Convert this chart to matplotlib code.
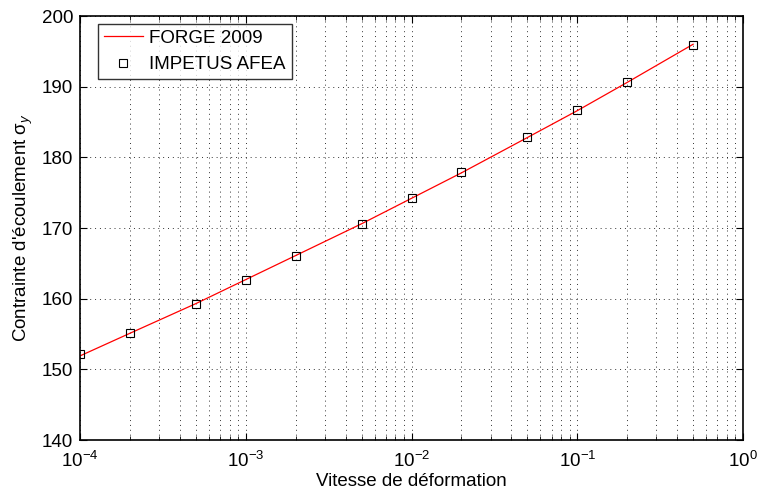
import matplotlib
matplotlib.use("Agg")
import matplotlib.pyplot as plt

# strain rate (1/s) and flow stress
rate = [1e-4, 2e-4, 5e-4, 1e-3, 2e-3, 5e-3, 1e-2, 2e-2, 5e-2, 1e-1, 2e-1, 5e-1]
forge = [151.9, 155.1, 159.3, 162.7, 166.1, 170.6, 174.2, 177.8, 182.8, 186.6, 190.6, 196.0]
impetus = [152.1, 155.1, 159.3, 162.7, 166.0, 170.6, 174.2, 177.9, 182.9, 186.7, 190.6, 195.9]

plt.rcParams["font.family"] = ["Liberation Sans", "DejaVu Sans"]
plt.rcParams["mathtext.fontset"] = "custom"
plt.rcParams["mathtext.rm"] = "Liberation Sans"
plt.rcParams["mathtext.it"] = "Liberation Sans:italic"

fs = 13.5
fig = plt.figure(figsize=(7.57, 4.94), dpi=100)
ax = fig.add_axes([80 / 757, 1 - 440 / 494, 663 / 757, 424 / 494])

ax.plot(rate, forge, color="red", linewidth=0.9, label="FORGE 2009")
ax.plot(rate, impetus, linestyle="none", marker="s", markersize=5.5,
        markerfacecolor="none", markeredgecolor="black", markeredgewidth=0.8,
        label="IMPETUS AFEA")

ax.set_xscale("log")
ax.set_xlim(1e-4, 1)
ax.set_ylim(140, 200)
ax.set_yticks(range(140, 201, 10))

ax.grid(True, which="both", linestyle=(0, (1, 4)), color="black", linewidth=0.7, alpha=0.8)
ax.tick_params(which="both", direction="in", top=True, right=True, labelsize=fs)
ax.tick_params(which="major", length=5)
ax.tick_params(which="minor", length=3)
ax.tick_params(axis="x", pad=8)
ax.tick_params(axis="y", pad=5)
for s in ax.spines.values():
    s.set_linewidth(1.2)

ax.set_xlabel("Vitesse de déformation", fontsize=fs, labelpad=1)
ax.set_ylabel("Contrainte d'écoulement σ$_y$", fontsize=fs, labelpad=5)

leg = ax.legend(loc="upper left", fontsize=fs, frameon=True, fancybox=False,
                edgecolor="black", borderpad=0.3, handlelength=2.1,
                handletextpad=0.35, borderaxespad=0,
                bbox_to_anchor=(0.027, 0.981))
leg.get_frame().set_linewidth(1.0)

fig.savefig("out.png", dpi=100)
